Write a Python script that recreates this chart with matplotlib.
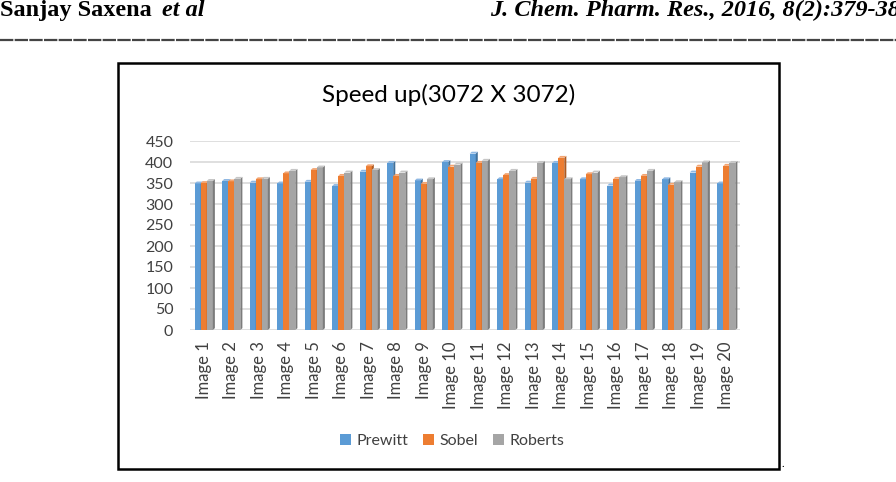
import numpy as np
import matplotlib
matplotlib.use('Agg')
import matplotlib.pyplot as plt
from matplotlib.patches import Polygon, Rectangle
from matplotlib.lines import Line2D

# dados
imagens = ['Image %d' % i for i in range(1, 21)]
prewitt = [349, 355, 351, 349, 353, 343, 377, 398, 356, 400,
           420, 359, 351, 398, 359, 344, 355, 359, 375, 349]
sobel = [350, 354, 359, 373, 381, 367, 390, 367, 348, 389,
         398, 369, 360, 410, 371, 360, 367, 346, 389, 391]
roberts = [355, 360, 360, 379, 387, 375, 381, 375, 359, 394,
           403, 379, 398, 359, 375, 364, 379, 352, 399, 398]
series = ['Prewitt', 'Sobel', 'Roberts']
cores = ['#5B9BD5', '#ED7D31', '#A5A5A5']
lados = ['#41719C', '#AE5A21', '#7C7C7C']
topos = ['#8FB8E3', '#F3A572', '#C6C6C6']
yticks = [0, 50, 100, 150, 200, 250, 300, 350, 400, 450]

plt.rcParams['font.family'] = ['Lato', 'DejaVu Sans']

fig = plt.figure(figsize=(8.96, 4.82), dpi=100)

# cabecalho da pagina
fig.text(0.0, 0.978, 'Sanjay Saxena', family='Liberation Serif', weight='bold',
         fontsize=17.5, va='center', ha='left')
fig.text(0.181, 0.978, 'et al', family='Liberation Serif', weight='bold', style='italic',
         fontsize=17.5, va='center', ha='left')
fig.text(1.004, 0.978, 'J. Chem. Pharm. Res., 2016, 8(2):379-38', family='Liberation Serif',
         weight='bold', style='italic', fontsize=17.5, va='center', ha='right')
fig.add_artist(Line2D([0, 1], [1 - 40 / 482, 1 - 40 / 482], color='#444444', lw=1.6,
                      ls=(0, (6, 0.6)), transform=fig.transFigure))

# moldura
fig.add_artist(Rectangle((118 / 896, 1 - 469 / 482), (779 - 118) / 896, (469 - 63) / 482,
                         fill=False, ec='black', lw=1.8, transform=fig.transFigure))
fig.text(783 / 896, 1 - 469 / 482, '.', fontsize=8, ha='center', va='bottom')

ax = fig.add_axes([190 / 896, 1 - 330 / 482, 550 / 896, 189 / 482])
fig.text(449 / 896, 1 - 95 / 482, 'Speed up(3072 X 3072)', fontsize=17.5, ha='center', va='center')

x = np.arange(len(imagens))
w = 0.22
dx = 0.075
dy = 4.5
dados = [prewitt, sobel, roberts]
for k, (vals, nome) in enumerate(zip(dados, series)):
    pos = x + (k - 1) * w
    ax.bar(pos, vals, width=w, color=cores[k], label=nome, zorder=3 + 2 * k, linewidth=0)
    for p, v in zip(pos, vals):
        x0 = p - w / 2
        x1 = p + w / 2
        lado = Polygon([(x1, 0), (x1 + dx, dy), (x1 + dx, v + dy), (x1, v)],
                       closed=True, fc=lados[k], ec='none', zorder=4 + 2 * k)
        topo = Polygon([(x0, v), (x0 + dx, v + dy), (x1 + dx, v + dy), (x1, v)],
                       closed=True, fc=topos[k], ec='none', zorder=4 + 2 * k)
        ax.add_patch(lado)
        ax.add_patch(topo)

ax.set_xlim(-0.5, len(imagens) - 0.5)
ax.set_ylim(0, 450)
ax.set_yticks(yticks)
ax.set_yticklabels([str(t) for t in yticks], fontsize=11.5, color='#404040')
ax.set_xticks(x)
ax.set_xticklabels(imagens, rotation=90, fontsize=12, color='#404040')
ax.tick_params(axis='y', length=0, pad=12)
ax.tick_params(axis='x', length=0, pad=8)
ax.yaxis.grid(True, color='#D9D9D9', lw=1.2, zorder=0)
ax.set_axisbelow(True)
for s in ax.spines.values():
    s.set_visible(False)

leg = fig.legend(loc='center', bbox_to_anchor=(452 / 896, 1 - 441 / 482), ncol=3, frameon=False,
                 fontsize=11.5, handlelength=0.7, handleheight=0.7, handletextpad=0.35,
                 columnspacing=0.9)
for t in leg.get_texts():
    t.set_color('#404040')

fig.savefig('out.png', dpi=100)
